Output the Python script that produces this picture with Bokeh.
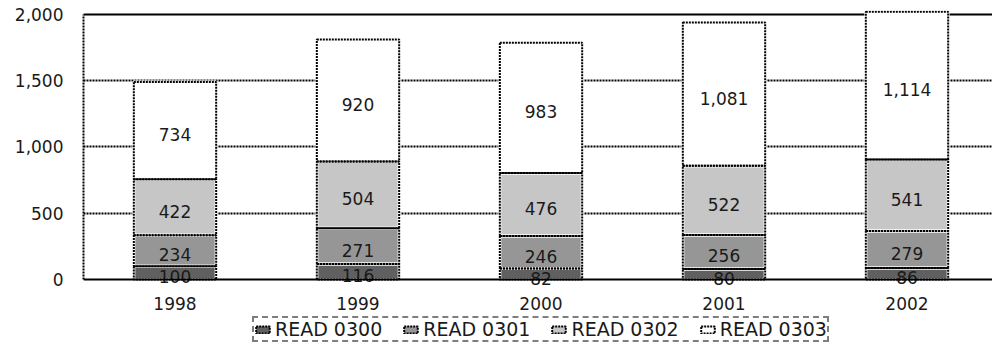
import numpy as np
from bokeh.plotting import figure
from bokeh.models import (Range1d, FixedTicker, NumeralTickFormatter, Span,
                          ColumnDataSource, Legend, LegendItem)
from bokeh.core.properties import value
from bokeh.embed import file_html
from bokeh.resources import INLINE

# ---- data ----
years = [1998, 1999, 2000, 2001, 2002]
series_names = ["READ 0300", "READ 0301", "READ 0302", "READ 0303"]
read_0300 = [100, 116, 82, 80, 86]
read_0301 = [234, 271, 246, 256, 279]
read_0302 = [422, 504, 476, 522, 541]
read_0303 = [734, 920, 983, 1081, 1114]
y_ticks = [0, 500, 1000, 1500, 2000]
grid_ticks = [500, 1000, 1500]
colors = ["#606060", "#969696", "#C6C6C6", "#FFFFFF"]

FONT_NAME = "DejaVu Sans"
FONT = value(FONT_NAME)
TXT = "#1a1a1a"
DOT = "2 1"

FRAME_H = 337
PX_PER_UNIT = 0.1325
Y_END = 2030
Y_START = Y_END - FRAME_H / PX_PER_UNIT

p = figure(frame_width=909, frame_height=FRAME_H,
           x_range=Range1d(1997.5, 1997.5 + 909 / 183),
           y_range=Range1d(Y_START, Y_END),
           output_backend="svg", toolbar_location=None,
           min_border_left=83, min_border_right=0,
           min_border_top=10, min_border_bottom=0)
p.outline_line_color = None
p.background_fill_color = "white"
p.border_fill_color = "white"

# axes
p.yaxis.ticker = FixedTicker(ticks=y_ticks)
p.yaxis.formatter = NumeralTickFormatter(format="0,0")
p.yaxis.bounds = (0, 2000)
p.yaxis.axis_line_color = "black"
p.yaxis.axis_line_width = 2
p.yaxis.axis_line_dash = DOT
p.yaxis.major_tick_out = 0
p.yaxis.major_tick_in = 0
p.yaxis.minor_tick_line_color = None
p.yaxis.major_label_standoff = 20
p.yaxis.major_label_text_font = FONT_NAME
p.yaxis.major_label_text_font_size = "17px"
p.yaxis.major_label_text_color = TXT

p.xaxis.fixed_location = 0
p.xaxis.ticker = FixedTicker(ticks=years)
p.xaxis.major_label_overrides = {y: str(y) for y in years}
p.xaxis.axis_line_color = "black"
p.xaxis.axis_line_width = 2
p.xaxis.major_tick_out = 0
p.xaxis.major_tick_in = 0
p.xaxis.minor_tick_line_color = None
p.xaxis.major_label_standoff = 18
p.xaxis.major_label_text_font = FONT_NAME
p.xaxis.major_label_text_font_size = "17px"
p.xaxis.major_label_text_color = TXT

p.xgrid.grid_line_color = None
p.ygrid.ticker = FixedTicker(ticks=grid_ticks)
p.ygrid.grid_line_color = "black"
p.ygrid.grid_line_width = 2
p.ygrid.grid_line_dash = DOT

p.add_layout(Span(location=2000, dimension="width", line_color="black",
                  line_width=2, level="underlay"))

# stacked bars
data = [read_0300, read_0301, read_0302, read_0303]
arr = np.array(data, dtype=float)
tops = np.cumsum(arr, axis=0)
bottoms = tops - arr
W = 0.45

sources = []
for i, name in enumerate(series_names):
    src = ColumnDataSource(dict(
        x=years, bottom=bottoms[i], top=tops[i],
        mid=(bottoms[i] + tops[i]) / 2,
        label=[f"{v:,}" for v in data[i]]))
    sources.append(src)

fill_rs = []
for i, src in enumerate(sources):
    r = p.vbar(x="x", bottom="bottom", top="top", width=W, source=src,
               fill_color=colors[i], line_color=None)
    fill_rs.append(r)

for src in sources:
    p.vbar(x="x", bottom="bottom", top="top", width=W, source=src,
           fill_color=None, line_color="white", line_width=3)

for src in sources:
    p.text(x="x", y="mid", text="label", source=src, text_align="center",
           text_baseline="middle", text_font=FONT, text_font_size="17px",
           text_color=TXT, y_offset=4)

border_rs = []
for src in sources:
    r = p.vbar(x="x", bottom="bottom", top="top", width=W, source=src,
               fill_color=None, line_color="black", line_width=2,
               line_dash=DOT)
    border_rs.append(r)

items = [LegendItem(label=name, renderers=[fill_rs[i], border_rs[i]])
         for i, name in enumerate(series_names)]
legend = Legend(items=items, orientation="horizontal", location=(169, 5),
                margin=0, padding=0, spacing=20, label_standoff=4,
                glyph_width=17, glyph_height=9, label_height=20,
                label_text_font=FONT_NAME, label_text_font_size="19px",
                label_text_color=TXT,
                border_line_color="black", border_line_width=2,
                border_line_dash=DOT, background_fill_color="white",
                background_fill_alpha=1.0)
p.add_layout(legend, "center")

open("out.html", "w").write(file_html(p, INLINE))
